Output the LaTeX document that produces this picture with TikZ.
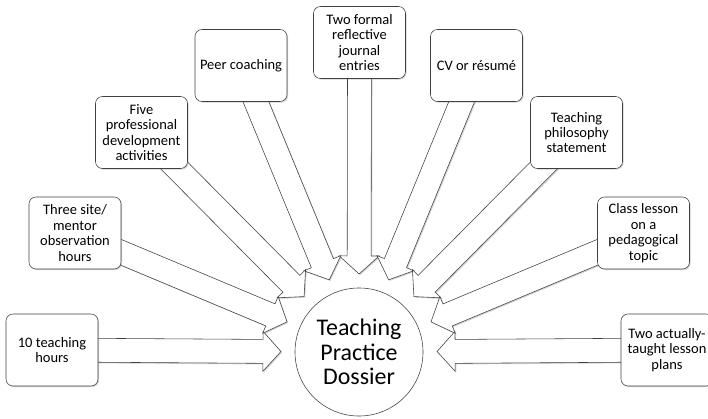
\documentclass[tikz,border=0pt]{standalone}
\usepackage{fontspec}
\setmainfont{Carlito}
\usetikzlibrary{calc,shadows,backgrounds}

% block arrow from a box to the dossier circle
\newcommand\feedarrow[1]{%
  \draw[blockarr] let \p1=(#1.center), \p2=(dossier.center),
      \n1={atan2(\y2-\y1,\x2-\x1)}, \n2={veclen(\x2-\x1,\y2-\y1)-55.5pt},
      \n3={\n2-12.8pt} in
    ($(\p1)+(\n1+90:8.5pt)$) -- ($(\p1)+(\n1:\n3)+(\n1+90:8.5pt)$)
    -- ($(\p1)+(\n1:\n3)+(\n1+90:14.2pt)$) -- ($(\p1)+(\n1:\n2)$)
    -- ($(\p1)+(\n1:\n3)+(\n1-90:14.2pt)$) -- ($(\p1)+(\n1:\n3)+(\n1-90:8.5pt)$)
    -- ($(\p1)+(\n1-90:8.5pt)$) -- cycle;}

\begin{document}
\begin{tikzpicture}[x=0.025cm, y=-0.025cm,
    item/.style={draw=black!75, fill=white, rounded corners=5pt, minimum width=2.3cm,
      minimum height=1.8cm, align=center, font=\fontsize{10.3}{11}\selectfont,
      drop shadow={shadow xshift=0.8pt, shadow yshift=-0.8pt, opacity=0.35}},
    hub/.style={circle, draw=black!75, fill=white, minimum size=3.2cm, align=center,
      font=\fontsize{17}{17.5}\selectfont},
    blockarr/.style={draw=black!75, fill=white, line join=miter,
      drop shadow={shadow xshift=0.8pt, shadow yshift=-0.8pt, opacity=0.35}}]
  \useasboundingbox (0,0) rectangle (708,419);

  \node[hub] (dossier) at (359,352) {Teaching\\Practice\\Dossier};

  \node[item] (ten) at (52,350) {10 teaching\\hours};
  \node[item] (three) at (75,233) {Three site/\\mentor\\observation\\hours};
  \node[item] (five) at (141.5,132.5) {Five\\professional\\development\\activities};
  \node[item] (peer) at (241,65.5) {Peer coaching};
  \node[item] (two) at (359.5,42.5) {Two formal\\reflective\\journal\\entries};
  \node[item] (cv) at (476.5,65.5) {CV or résumé};
  \node[item] (phil) at (576.5,132.5) {Teaching\\philosophy\\statement};
  \node[item] (lesson) at (643.5,233) {Class lesson\\on a\\pedagogical\\topic};
  \node[item] (plans) at (667,350) {Two actually-\\taught lesson\\plans};

  \begin{pgfonlayer}{background}
    \foreach \b in {two,peer,cv,five,phil,three,lesson,ten,plans}
      \feedarrow{\b};
  \end{pgfonlayer}
\end{tikzpicture}
\end{document}
